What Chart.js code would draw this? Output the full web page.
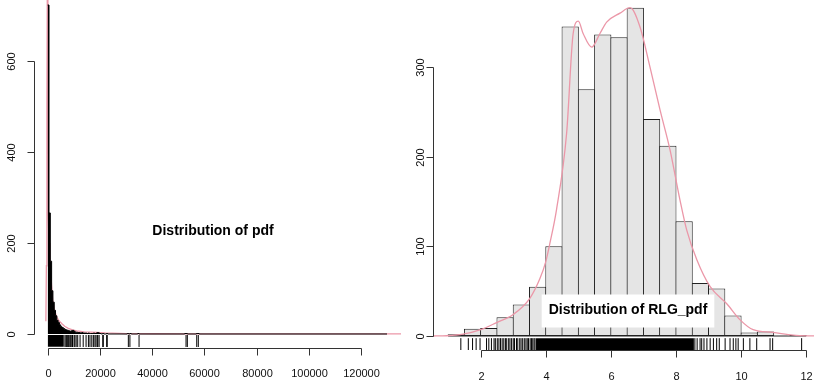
<!DOCTYPE html>
<html lang="en">
<head>
<meta charset="UTF-8">
<title>Distribution of pdf / RLG_pdf</title>
<script src="https://cdn.jsdelivr.net/npm/chart.js"></script>
<style>
    html, body {
        margin: 0;
        padding: 0;
        width: 814px;
        height: 386px;
        overflow: hidden;
        background: #fff;
    }
    .panel { position: absolute; top: 0; width: 407px; height: 386px; }
    #left { left: 0; }
    #right { left: 407px; }
</style>
</head>
<body>
<div class="panel" id="left"><canvas id="pdfChart"></canvas></div>
<div class="panel" id="right"><canvas id="rlgChart"></canvas></div>

<script>
// ---- left panel: raw pdf values (bins of 500 starting at 0) ----
const pdfBinWidth = 500;
const pdfCounts = [723, 266, 160, 95, 70, 52, 40, 30, 25, 20, 16, 14, 12, 10, 9, 8,
                   7, 6, 7, 8, 6, 4, 4, 3, 3, 2, 3, 2, 2, 2, 1, 2, 1, 1, 1, 2,
                   1, 2, 3, 2, 1, 0, 1, 0, 0, 1];
const pdfOutlierBins = [30500, 31500, 34500, 52500, 53000, 57000, 57500];
const pdfDensityX = [-700, -500, -300, -100, 0, 150, 250, 500, 800, 1150, 1500, 1900,
                     2600, 3450, 4300, 5360, 6500, 7900, 9500, 11100, 14000, 18800,
                     22000, 30000, 40000, 60000, 136000];
const pdfDensityY = [28, 150, 500, 850, 900, 600, 260, 200, 165, 140, 105, 75,
                     52, 38, 29, 23, 17, 12.5, 9, 6.6, 4.5, 3.7,
                     2.5, 1, 0.5, 0.3, 0.2];
const pdfRugBand = [0, 6200];
const pdfRug = [6600, 7000, 7300, 7500, 7900, 8200, 8600, 8900, 9300, 9500, 10100,
                10400, 10900, 11500, 12400, 13600, 14700, 15600, 16200, 16900, 17500,
                18100, 18500, 19000, 19200, 19700, 21100, 21300, 22600, 22800,
                30900, 31500, 35000, 53000, 53500, 57100, 57700];
const pdfXTicks = [0, 20000, 40000, 60000, 80000, 100000, 120000];
const pdfYTicks = [0, 200, 400, 600];

// ---- right panel: log values ----
const rlgBreaks = [1, 1.5, 2, 2.5, 3, 3.5, 4, 4.5, 5, 5.5, 6, 6.5, 7, 7.5, 8, 8.5,
                   9, 9.5, 10, 10.5, 11, 11.5, 12];
const rlgCounts = [2, 8, 9, 21, 35, 55, 100, 345, 275, 336, 333, 366, 242, 212,
                   128, 59, 53, 23, 4, 5, 0, 1];
const rlgDensityX = [0.5, 0.96, 1.46, 2.0, 2.49, 3.0, 3.51, 3.82, 4.0, 4.13, 4.33,
                     4.64, 4.84, 5.0, 5.15, 5.41, 5.66, 5.87, 6.28, 6.59, 6.89, 7.2,
                     7.51, 7.82, 8.12, 8.33, 8.64, 9.05, 9.56, 9.97, 10.37, 10.98,
                     11.6, 12.3];
const rlgDensityY = [0, 0.3, 2, 7, 15, 24, 42, 64, 83, 104, 141,
                     226, 337, 351, 337, 322, 337, 350, 360, 366, 345, 300,
                     252, 207, 152, 118, 85, 55, 36, 18, 7, 4,
                     1, 0];
const rlgRugBand = [3.7, 8.55];
const rlgRug = [1.39, 1.62, 1.75, 1.86, 1.98, 2.18, 2.25, 2.33, 2.41, 2.45, 2.51,
                2.56, 2.61, 2.66, 2.71, 2.76, 2.8, 2.86, 2.9, 2.95, 3.0, 3.04, 3.1,
                3.14, 3.2, 3.24, 3.29, 3.34, 3.39, 3.43, 3.47, 3.52, 3.56, 3.6,
                3.64, 3.67, 8.58, 8.65, 8.74, 8.79, 8.86, 8.95, 9.05,
                9.15, 9.25, 9.33, 9.51, 9.66, 9.76, 9.84, 9.91, 10.07, 10.27,
                10.48, 10.89, 10.97, 11.86];
const rlgXTicks = [2, 4, 6, 8, 10, 12];
const rlgYTicks = [0, 100, 200, 300];

const FONT = '"Liberation Sans", Arial, sans-serif';
const PINK = '#eb97a8';

// R-style axes: line only from first to last tick, labels parallel to axis
const rAxes = {
    id: 'rAxes',
    afterDraw(chart, args, opts) {
        const { ctx, chartArea, scales } = chart;
        ctx.save();
        ctx.strokeStyle = '#333';
        ctx.fillStyle = '#111';
        ctx.lineWidth = 1;
        ctx.font = '11px ' + FONT;
        ctx.textAlign = 'center';
        ctx.textBaseline = 'middle';

        // x axis
        const xb = Math.round(chartArea.bottom) + 0.5;
        const xs = opts.xTicks.map(v => Math.round(scales.x.getPixelForValue(v)) + 0.5);
        ctx.beginPath();
        ctx.moveTo(xs[0], xb);
        ctx.lineTo(xs[xs.length - 1], xb);
        xs.forEach(px => { ctx.moveTo(px, xb); ctx.lineTo(px, xb + 7); });
        ctx.stroke();
        opts.xTicks.forEach((v, i) => ctx.fillText(String(v), xs[i], xb + opts.xGap));

        // y axis
        const yl = Math.round(chartArea.left) + 0.5;
        const ys = opts.yTicks.map(v => Math.round(scales.y.getPixelForValue(v)) + 0.5);
        ctx.beginPath();
        ctx.moveTo(yl, ys[0]);
        ctx.lineTo(yl, ys[ys.length - 1]);
        ys.forEach(py => { ctx.moveTo(yl, py); ctx.lineTo(yl - 7, py); });
        ctx.stroke();
        opts.yTicks.forEach((v, i) => {
            ctx.save();
            ctx.translate(yl - opts.yGap, ys[i]);
            ctx.rotate(-Math.PI / 2);
            ctx.fillText(String(v), 0, 0);
            ctx.restore();
        });
        ctx.restore();
    }
};

// panel caption (legend-like text with optional white box)
const caption = {
    id: 'caption',
    afterDraw(chart, args, opts) {
        const ctx = chart.ctx;
        ctx.save();
        ctx.font = 'bold 14px ' + FONT;
        ctx.textAlign = 'center';
        ctx.textBaseline = 'middle';
        if (opts.box) {
            const w = ctx.measureText(opts.text).width;
            ctx.fillStyle = '#fff';
            ctx.fillRect(opts.x - w / 2 - 7, opts.y - 16, w + 14, 33);
        }
        ctx.fillStyle = '#000';
        ctx.fillText(opts.text, opts.x, opts.y);
        ctx.restore();
    }
};

function rugPoints(vals, yv) {
    return vals.map(v => ({ x: v, y: yv }));
}

// ---------- left chart ----------
const pdfHist = [];
pdfCounts.forEach((c, i) => pdfHist.push({ x: i * pdfBinWidth, y: c }));
pdfHist.push({ x: pdfCounts.length * pdfBinWidth, y: 0 });
pdfOutlierBins.forEach(s => {
    pdfHist.push({ x: s, y: 1 });
    pdfHist.push({ x: s + pdfBinWidth, y: 0 });
});
pdfHist.push({ x: 130000, y: 0 });

new Chart(document.getElementById('pdfChart'), {
    type: 'line',
    data: {
        datasets: [
            {
                data: pdfHist,
                stepped: true,
                borderColor: '#000',
                backgroundColor: '#000',
                borderWidth: 1,
                pointRadius: 0,
                fill: 'origin'
            },
            {
                data: pdfDensityX.map((x, i) => ({ x, y: pdfDensityY[i] })),
                borderColor: PINK,
                borderWidth: 1.3,
                pointRadius: 0,
                tension: 0,
                fill: false
            },
            {
                data: pdfRugBand.map(x => ({ x, y: -2.2 })),
                borderWidth: 0,
                pointRadius: 0,
                backgroundColor: '#000',
                fill: { value: -28 }
            },
            {
                type: 'scatter',
                data: rugPoints(pdfRug, -15.4),
                pointStyle: 'line',
                rotation: 90,
                radius: 6,
                borderWidth: 1,
                borderColor: '#000'
            }
        ]
    },
    options: {
        responsive: true,
        maintainAspectRatio: false,
        animation: false,
        layout: { autoPadding: false, padding: { left: 33.5, right: 6, top: 0, bottom: 38.5 } },
        scales: {
            x: { type: 'linear', display: false, min: -5440, max: 135360 },
            y: { type: 'linear', display: false, min: -29.7, max: 734 }
        },
        plugins: {
            legend: { display: false },
            tooltip: { enabled: false },
            rAxes: { xTicks: pdfXTicks, yTicks: pdfYTicks, xGap: 25, yGap: 23 },
            caption: { text: 'Distribution of pdf', x: 213, y: 231, box: false }
        }
    },
    plugins: [rAxes, caption]
});

// ---------- right chart ----------
const rlgBars = rlgCounts.map((c, i) => ({ x: (rlgBreaks[i] + rlgBreaks[i + 1]) / 2, y: c }));

new Chart(document.getElementById('rlgChart'), {
    data: {
        datasets: [
            {
                type: 'bar',
                data: rlgBars,
                backgroundColor: '#e5e5e5',
                borderColor: '#222',
                borderWidth: 1,
                borderSkipped: false,
                barPercentage: 1.06,
                categoryPercentage: 1,
                order: 3
            },
            {
                type: 'line',
                data: [{ x: rlgBreaks[0], y: 0 }, { x: rlgBreaks[rlgBreaks.length - 1], y: 0 }],
                borderColor: '#222',
                borderWidth: 1,
                pointRadius: 0,
                order: 2
            },
            {
                type: 'line',
                data: rlgDensityX.map((x, i) => ({ x, y: rlgDensityY[i] })),
                borderColor: PINK,
                borderWidth: 1.3,
                pointRadius: 0,
                cubicInterpolationMode: 'monotone',
                fill: false,
                order: 1
            },
            {
                type: 'line',
                data: rlgRugBand.map(x => ({ x, y: -2.6 })),
                borderWidth: 0,
                pointRadius: 0,
                backgroundColor: '#000',
                fill: { value: -15.6 },
                order: 1
            },
            {
                type: 'scatter',
                data: rugPoints(rlgRug, -9.1),
                pointStyle: 'line',
                rotation: 90,
                radius: 6,
                borderWidth: 1,
                borderColor: '#000',
                order: 1
            }
        ]
    },
    options: {
        responsive: true,
        maintainAspectRatio: false,
        animation: false,
        layout: { autoPadding: false, padding: { left: 26, right: 0, top: 0, bottom: 36 } },
        scales: {
            x: { type: 'linear', display: false, min: 0.535, max: 12.24, offset: false },
            y: { type: 'linear', display: false, min: -15.6, max: 374.6 }
        },
        plugins: {
            legend: { display: false },
            tooltip: { enabled: false },
            rAxes: { xTicks: rlgXTicks, yTicks: rlgYTicks, xGap: 26, yGap: 13 },
            caption: { text: 'Distribution of RLG_pdf', x: 221, y: 310.5, box: true }
        }
    },
    plugins: [rAxes, caption]
});
</script>
</body>
</html>
